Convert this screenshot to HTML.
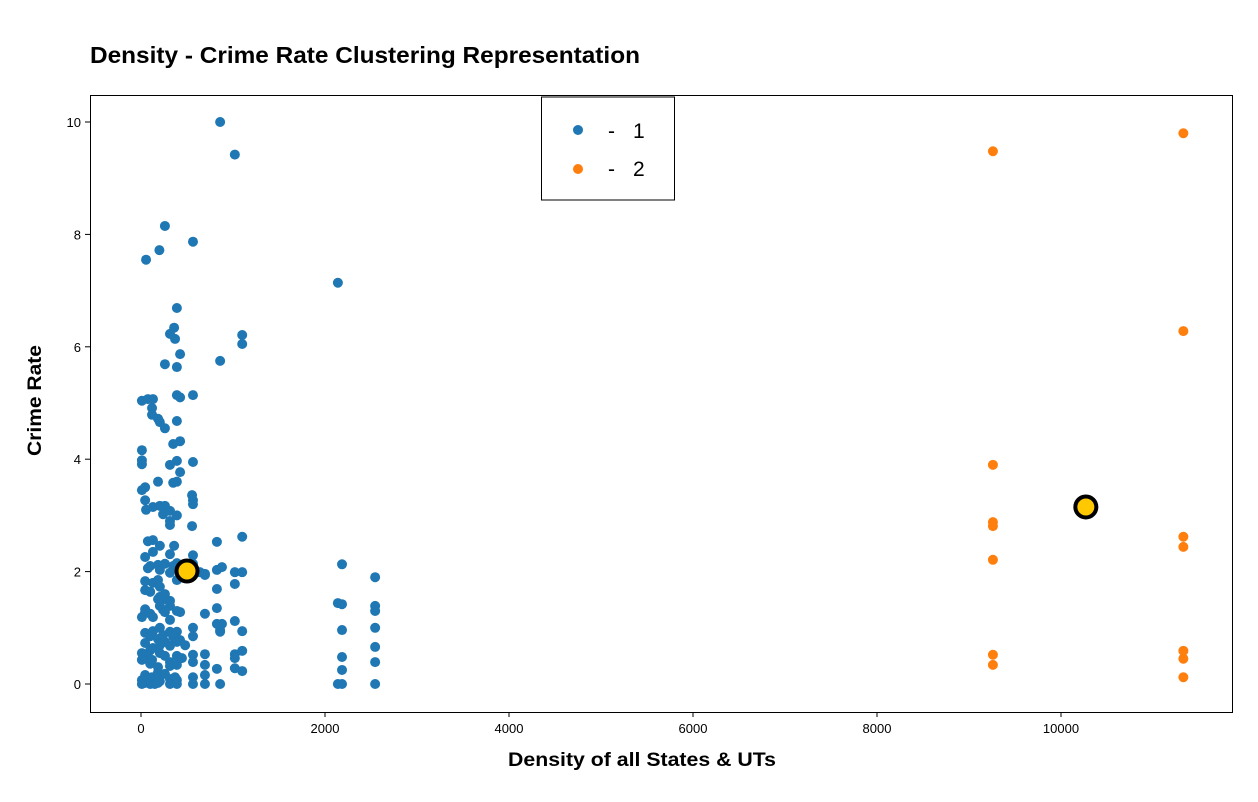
<!DOCTYPE html>
<html><head><meta charset="utf-8"><style>
body{margin:0;background:#fff;font-family:"Liberation Sans",sans-serif}
svg text{font-family:"Liberation Sans",sans-serif}
</style></head><body>
<svg id="chart" width="1258" height="797">
<text x="90" y="63" font-size="23" font-weight="bold" textLength="550" lengthAdjust="spacingAndGlyphs">Density - Crime Rate Clustering Representation</text>
<rect x="90.5" y="95.5" width="1142" height="617" fill="none" stroke="#000"/>
<g id="ticks"></g>
<g id="pts"></g>
<text x="508" y="766" font-size="19" font-weight="bold" textLength="268" lengthAdjust="spacingAndGlyphs">Density of all States &amp; UTs</text>
<text transform="translate(41,456) rotate(-90)" font-size="19" font-weight="bold" textLength="111" lengthAdjust="spacingAndGlyphs">Crime Rate</text>
<g>
<rect x="541.5" y="97" width="133" height="103" fill="#fff" stroke="#000"/>
<circle cx="578" cy="130" r="5" fill="#1f77b4"/>
<text x="608" y="138" font-size="21">-</text>
<text x="633" y="138" font-size="21">1</text>
<circle cx="578" cy="169" r="5" fill="#ff7f0e"/>
<text x="608" y="176" font-size="21">-</text>
<text x="633" y="176" font-size="21">2</text>
</g>
</svg>
<script>
const xTicks=[0,2000,4000,6000,8000,10000];
const yTicks=[0,2,4,6,8,10];
const blueX=[860,1020,260,565,200,55,2140,390,1100,1100,360,315,370,425,860,260,390,390,425,565,10,75,130,120,120,185,205,390,260,425,350,10,10,10,390,315,565,425,185,350,390,10,45,555,565,565,45,55,130,205,260,240,315,390,315,315,555,1100,825,75,130,205,360,130,45,315,565,2185,
100,185,260,350,390,445,565,75,205,315,640,695,825,880,1020,1100,2545,45,130,185,205,390,1020,695,825,45,100,205,260,315,185,260,2140,2185,2545,2545,825,45,45,100,10,130,205,240,315,390,260,425,695,1020,315,825,860,880,860,2545,2185,565,1100,45,100,130,205,240,315,390,350,185,565,45,100,130,205,260,315,390,425,480,2545,1020,1100,10,75,120,205,260,315,390,445,565,695,1020,2185,2545,10,100,185,315,390,565,695,825,1020,1100,2185,45,75,120,185,260,315,370,565,695,10,45,100,150,205,315,390,565,695,860,2140,2185,2545,10,185,390];
const blueY=[10.0,9.42,8.15,7.87,7.72,7.55,7.14,6.69,6.21,6.05,6.34,6.23,6.14,5.87,5.75,5.69,5.64,5.14,5.1,5.14,5.04,5.07,5.07,4.91,4.79,4.72,4.66,4.68,4.55,4.32,4.27,4.16,3.98,3.91,3.97,3.9,3.95,3.77,3.6,3.58,3.6,3.45,3.5,3.36,3.27,3.2,3.27,3.1,3.15,3.17,3.17,3.02,3.08,3.0,2.9,2.83,2.81,2.62,2.53,2.54,2.56,2.46,2.46,2.35,2.26,2.31,2.29,2.13,
2.10,2.12,2.14,2.10,2.15,2.03,2.14,2.06,2.03,1.98,1.99,1.96,2.03,2.08,1.99,1.99,1.9,1.83,1.80,1.85,1.73,1.85,1.78,1.94,1.69,1.67,1.64,1.55,1.51,1.48,1.51,1.60,1.44,1.42,1.39,1.30,1.35,1.33,1.28,1.25,1.19,1.19,1.39,1.32,1.39,1.30,1.28,1.28,1.25,1.12,1.14,1.07,0.96,1.07,0.93,1.0,0.96,1.0,0.94,0.91,0.85,0.94,1.0,0.87,0.93,0.93,0.84,0.80,0.85,0.73,0.60,0.64,0.69,0.75,0.68,0.75,0.78,0.69,0.66,0.53,0.59,0.55,0.50,0.43,0.55,0.50,0.39,0.50,0.46,0.52,0.53,0.46,0.48,0.39,0.43,0.36,0.30,0.32,0.34,0.39,0.34,0.27,0.28,0.23,0.25,0.16,0.09,0.12,0.21,0.18,0.09,0.12,0.12,0.16,0.07,0.02,0,0,0.05,0,0.07,0,0,0,0,0,0,0,0.02,0];
const orangeX=[9260,9260,9260,9260,9260,9260,9260,11330,11330,11330,11330,11330,11330,11330];
const orangeY=[9.48,3.9,2.88,2.81,2.21,0.52,0.34,9.8,6.28,2.62,2.44,0.59,0.45,0.12];
const centroidX=[500,10270];
const centroidY=[2.01,3.15];
const sx=v=>141+v*0.092;
const sy=v=>684-v*56.2;
const NS="http://www.w3.org/2000/svg";
const tg=document.getElementById('ticks'), pg=document.getElementById('pts');
function mk(tag,attrs,parent){const e=document.createElementNS(NS,tag);for(const k in attrs)e.setAttribute(k,attrs[k]);parent.appendChild(e);return e;}
xTicks.forEach(t=>{
 const l=mk('line',{x1:sx(t),x2:sx(t),y1:712,y2:717,stroke:'#000'},tg);
 
 
 const tx=mk('text',{x:sx(t),y:733,'font-size':13,'text-anchor':'middle'},tg);tx.textContent=t;
 
 
});
yTicks.forEach(t=>{
 const l=mk('line',{x1:85,x2:90,y1:sy(t),y2:sy(t),stroke:'#000'},tg);
 
 
 const tx=mk('text',{x:81,y:sy(t)+5,'font-size':13,'text-anchor':'end'},tg);tx.textContent=t;
 
 
});
blueX.forEach((x,i)=>{
 const c=mk('circle',{cx:sx(x),cy:sy(blueY[i]),r:5,fill:'#1f77b4'},pg);
 
 
});
orangeX.forEach((x,i)=>{
 const c=mk('circle',{cx:sx(x),cy:sy(orangeY[i]),r:5,fill:'#ff7f0e'},pg);
 
 
});
centroidX.forEach((x,i)=>{
 const c=mk('circle',{cx:sx(x),cy:sy(centroidY[i]),r:10.5,fill:'#ffc800',stroke:'#000','stroke-width':4},pg);
 
 
});
</script>
</body></html>
